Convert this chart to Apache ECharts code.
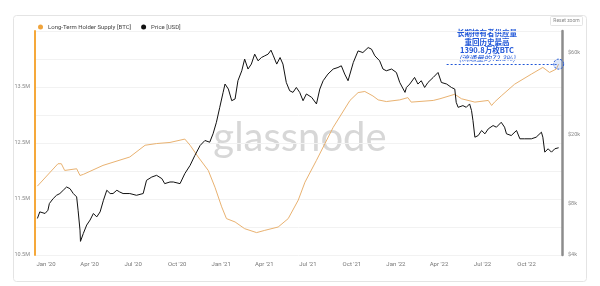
<!DOCTYPE html>
<html>
<head>
<meta charset="utf-8">
<script src="https://cdn.jsdelivr.net/npm/echarts@6/dist/echarts.min.js"></script>
<style>
html,body{margin:0;padding:0;background:#fff;}
#c{width:600px;height:286px;}
</style>
</head>
<body>
<div id="c"></div>
<script>
// ---- data ----
const lthDates = ['2019-12-14','2020-01-26','2020-02-02','2020-02-09','2020-03-05','2020-03-12','2020-03-19','2020-04-29','2020-06-24','2020-07-26','2020-08-19','2020-09-16','2020-10-17','2020-10-21','2020-10-28','2020-11-14','2020-12-05','2020-12-19','2021-01-02','2021-01-12','2021-01-30','2021-02-19','2021-03-16','2021-04-02','2021-04-30','2021-05-21','2021-06-11','2021-06-25','2021-07-19','2021-08-23','2021-09-27','2021-10-14','2021-10-28','2021-11-14','2021-11-25','2021-12-12','2022-01-09','2022-01-26','2022-02-02','2022-03-20','2022-04-03','2022-05-04','2022-05-18','2022-06-15','2022-07-13','2022-07-20','2022-07-26','2022-08-09','2022-09-06','2022-10-11','2022-11-04','2022-11-18','2022-12-02','2022-12-07'];
const lthSupplyM = [11.73,12.13,12.13,12.01,12.04,11.92,11.94,12.10,12.25,12.46,12.49,12.51,12.57,12.57,12.46,12.25,12.01,11.71,11.36,11.15,11.09,10.97,10.90,10.94,11.00,11.15,11.48,11.80,12.19,12.78,13.26,13.40,13.42,13.34,13.27,13.24,13.27,13.31,13.23,13.26,13.29,13.37,13.29,13.23,13.26,13.17,13.23,13.34,13.55,13.73,13.85,13.76,13.82,13.908];

const priceDates = ['2019-12-14','2019-12-19','2019-12-30','2020-01-05','2020-01-08','2020-01-16','2020-01-23','2020-01-30','2020-02-06','2020-02-13','2020-02-20','2020-02-27','2020-03-05','2020-03-08','2020-03-12','2020-03-13','2020-03-19','2020-03-26','2020-04-02','2020-04-09','2020-04-16','2020-04-23','2020-04-30','2020-05-07','2020-05-14','2020-05-20','2020-05-28','2020-06-03','2020-06-10','2020-06-24','2020-07-08','2020-07-22','2020-07-29','2020-08-09','2020-08-19','2020-08-30','2020-09-05','2020-09-16','2020-09-23','2020-10-07','2020-10-17','2020-10-28','2020-11-07','2020-11-18','2020-11-28','2020-12-08','2020-12-15','2020-12-22','2020-12-29','2021-01-05','2021-01-09','2021-01-16','2021-01-23','2021-01-30','2021-02-05','2021-02-13','2021-02-19','2021-02-26','2021-03-05','2021-03-12','2021-03-19','2021-03-26','2021-04-02','2021-04-09','2021-04-15','2021-04-20','2021-04-27','2021-05-04','2021-05-10','2021-05-17','2021-05-24','2021-05-31','2021-06-07','2021-06-14','2021-06-21','2021-06-28','2021-07-09','2021-07-19','2021-07-26','2021-08-02','2021-08-12','2021-08-23','2021-09-02','2021-09-09','2021-09-16','2021-09-23','2021-10-04','2021-10-14','2021-10-24','2021-11-04','2021-11-11','2021-11-18','2021-11-28','2021-12-05','2021-12-12','2021-12-23','2022-01-02','2022-01-09','2022-01-20','2022-01-23','2022-01-30','2022-02-09','2022-02-16','2022-02-23','2022-03-02','2022-03-09','2022-03-20','2022-03-30','2022-04-06','2022-04-17','2022-04-27','2022-05-04','2022-05-07','2022-05-11','2022-05-21','2022-05-28','2022-06-04','2022-06-08','2022-06-11','2022-06-15','2022-06-22','2022-06-29','2022-07-06','2022-07-13','2022-07-23','2022-07-30','2022-08-09','2022-08-16','2022-08-20','2022-08-30','2022-09-10','2022-09-17','2022-09-27','2022-10-11','2022-10-21','2022-11-01','2022-11-04','2022-11-08','2022-11-15','2022-11-22','2022-11-29','2022-12-07'];
const priceUSD = [6520,7120,6970,7280,7960,8510,8890,9100,9510,9930,9720,9100,8700,7280,5580,4800,5340,5970,6380,6970,6660,7120,8320,9510,9100,9100,9510,9290,9100,9100,8890,9100,10860,11350,11610,11110,10390,10620,10620,10390,11880,13260,15150,17310,18500,18080,20230,23600,28830,35200,39360,36800,31500,32240,41140,47000,54930,48100,51400,58700,53700,56100,57400,58700,61900,57400,51400,56100,51400,40200,36000,35200,37600,35200,31500,34460,32940,30160,36800,41140,44970,48100,49120,50240,44970,41140,52500,61300,59960,64100,62760,57400,53700,48100,47000,48100,45930,40200,35200,37600,39360,43000,39360,41140,37600,40200,43000,45930,40200,39360,37600,36800,30810,28830,29490,28830,30160,27580,24140,19330,19770,21140,20230,21620,22590,22100,23600,22100,20230,19770,21140,18920,18920,18920,19330,20670,19330,15830,16560,15830,16560,16790];

const xTickDates = ['2020-01-01','2020-04-01','2020-07-01','2020-10-01','2021-01-01','2021-04-01','2021-07-01','2021-10-01','2022-01-01','2022-04-01','2022-07-01','2022-10-01'];
const xTickLabels = ["Jan '20","Apr '20","Jul '20","Oct '20","Jan '21","Apr '21","Jul '21","Oct '21","Jan '22","Apr '22","Jul '22","Oct '22"];
const leftTicks = [10.5, 11.5, 12.5, 13.5];
const rightTicks = [4000, 8000, 20000, 60000];
const rightTickLabels = ['$4k','$8k','$20k','$60k'];

const athDate = '2022-12-07';
const athValue = 13.908;
const athLineStart = '2022-04-17';
const noteLines = ['长期持有者供应量','重回历史最高','1390.8万枚BTC','(流通量的72.3%)'];

// ---- build chart ----
const ts = s => new Date(s + 'T00:00:00Z').getTime();
const lthData = lthDates.map((d, i) => [ts(d), lthSupplyM[i]]);
const priceData = priceDates.map((d, i) => [ts(d), priceUSD[i]]);
const xTickTs = xTickDates.map(ts);
const nearestIdx = (arr, v, f) => { let best = 0, bd = Infinity; arr.forEach((t, i) => { const d = Math.abs(f(t) - f(v)); if (d < bd) { bd = d; best = i; } }); return best; };

const chart = echarts.init(document.getElementById('c'), null, {renderer: 'canvas'});
const blue = '#1f56d8';
const noteFont = 'bold 7.5px "Noto Sans CJK SC", sans-serif';
chart.setOption({
  animation: false,
  textStyle: {fontFamily: 'Roboto, "Noto Sans", sans-serif'},
  grid: {left: 35, right: 38, top: 31, bottom: 31, containLabel: false},
  legend: {
    left: 33, top: 19, itemWidth: 5, itemHeight: 5, itemGap: 10, icon: 'circle',
    textStyle: {fontSize: 6, color: '#444'},
    data: ['Long-Term Holder Supply [BTC]', 'Price [USD]']
  },
  xAxis: {
    type: 'value',
    min: ts('2019-12-09'), max: ts('2022-12-14'),
    axisLine: {show: false},
    axisTick: {show: false},
    splitLine: {show: false},
    axisLabel: {
      customValues: xTickTs, fontSize: 6, color: '#777', margin: 6,
      formatter: v => xTickLabels[nearestIdx(xTickTs, v, x => x)]
    }
  },
  yAxis: [{
    type: 'value', position: 'left',
    min: 10.5, max: 14.5, interval: 0.5,
    axisLine: {show: true, lineStyle: {color: '#f5a83a', width: 2}},
    axisTick: {show: false},
    splitLine: {show: true, lineStyle: {color: '#f2f2f2', width: 1}},
    axisLabel: {
      fontSize: 5.5, color: '#888', margin: 5,
      formatter: v => leftTicks.some(t => Math.abs(t - v) < 1e-6) ? v + 'M' : ''
    }
  }, {
    type: 'log', position: 'right', logBase: 10,
    min: 4000, max: 80000,
    axisLine: {show: true, lineStyle: {color: '#8c8c8c', width: 2.5}},
    axisTick: {show: false},
    splitLine: {show: false},
    axisLabel: {
      customValues: rightTicks, fontSize: 5.5, color: '#888', margin: 6,
      formatter: v => rightTickLabels[nearestIdx(rightTicks, v, Math.log)]
    }
  }],
  series: [{
    name: 'Long-Term Holder Supply [BTC]',
    type: 'line', yAxisIndex: 0, data: lthData,
    showSymbol: false, color: '#f0a43c',
    lineStyle: {width: 1, color: '#e9b271'},
    z: 2,
    markLine: {
      silent: true, symbol: 'none',
      lineStyle: {type: [2, 2], color: blue, width: 1},
      label: {show: false},
      data: [[{coord: [ts(athLineStart), athValue]}, {coord: [ts(athDate), athValue]}]]
    },
    markPoint: {
      silent: true, symbol: 'circle', symbolSize: 10,
      itemStyle: {color: 'rgba(120,160,230,0.25)', borderColor: blue, borderWidth: 1, borderType: [2, 1.5]},
      label: {show: false},
      data: [{coord: [ts(athDate), athValue]}]
    }
  }, {
    name: 'Price [USD]',
    type: 'line', yAxisIndex: 1, data: priceData,
    showSymbol: false, color: '#111',
    lineStyle: {width: 1, color: '#111'},
    z: 3
  }],
  graphic: [
    {type: 'rect', z: -10, shape: {x: 13.5, y: 15.5, width: 573, height: 266, r: 3}, style: {fill: '#fff', stroke: '#e4e4e4', lineWidth: 1}},
    {type: 'text', z: -5, left: 'center', top: 118, style: {text: 'glassnode', font: '40px Lato, "Open Sans", sans-serif', fill: 'rgba(150,150,150,0.38)'}},
    {type: 'text', left: 30, top: -17, style: {text: 'Bitcoin: Long-Term Holder Supply by Long-Term Holders', font: 'bold 16px "Open Sans", sans-serif', fill: '#222'}},
    {type: 'rect', shape: {x: 550.5, y: 16.5, width: 32, height: 9, r: 1}, style: {fill: '#fff', stroke: '#ddd', lineWidth: 0.8}},
    {type: 'text', x: 566.5, y: 21, style: {text: 'Reset zoom', font: '5px Roboto, sans-serif', fill: '#888', align: 'center', verticalAlign: 'middle'}},
    {type: 'text', x: 487, y: 33.5, style: {text: noteLines[0], font: noteFont, fill: blue, align: 'center', verticalAlign: 'middle'}},
    {type: 'text', x: 487, y: 42, style: {text: noteLines[1], font: noteFont, fill: blue, align: 'center', verticalAlign: 'middle'}},
    {type: 'text', x: 487, y: 50.5, style: {text: noteLines[2], font: noteFont, fill: blue, align: 'center', verticalAlign: 'middle'}},
    {type: 'text', x: 487, y: 58.5, style: {text: noteLines[3], font: 'italic 7.5px "Noto Sans CJK SC", sans-serif', fill: blue, align: 'center', verticalAlign: 'middle'}}
  ]
});
</script>
</body>
</html>
